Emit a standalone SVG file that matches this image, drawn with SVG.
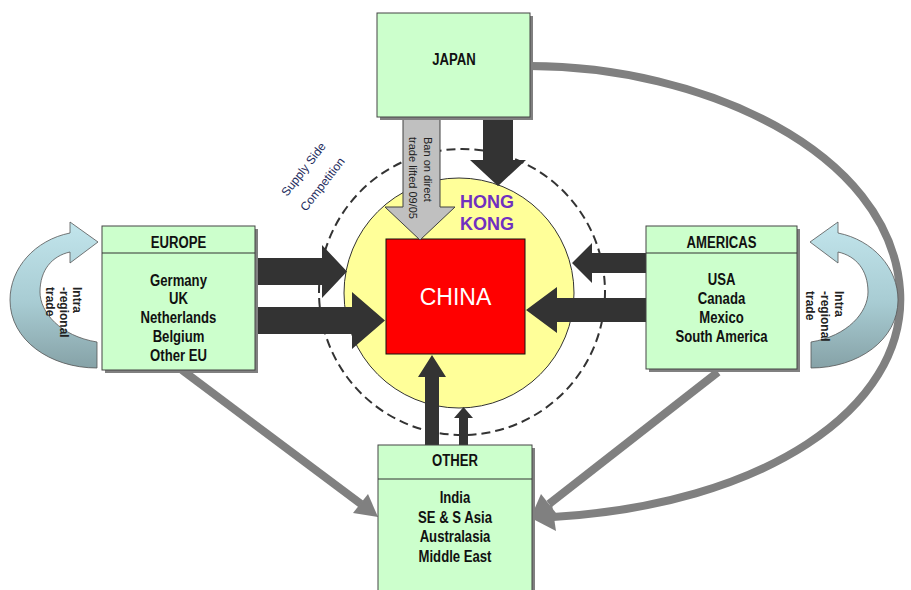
<svg xmlns="http://www.w3.org/2000/svg" width="911" height="590" viewBox="0 0 911 590">
<defs>
<style>
.box{fill:#ccffcc;stroke:#444;stroke-width:1}
.shadow{fill:#808080}
.hdr{stroke:#333;stroke-width:1}
.lbl{font-family:"Liberation Sans",Arial,sans-serif;font-weight:bold;font-size:16px;fill:#111;text-anchor:middle}
.dark{fill:#333333}
.gline{fill:none;stroke:#808080;stroke-width:8}
.ghead{fill:#808080}
.intra{fill:url(#ig);stroke:#555;stroke-width:0.8}
.itxt{font-family:"Liberation Sans",Arial,sans-serif;font-weight:bold;font-size:12px;fill:#222}
</style>
<linearGradient id="ig" x1="0" y1="0" x2="0" y2="1">
<stop offset="0" stop-color="#c2e5ec"/>
<stop offset="0.55" stop-color="#a8ccd3"/>
<stop offset="1" stop-color="#86a2a7"/>
</linearGradient>
</defs>

<g id="circles">
<circle cx="462" cy="292" r="143" fill="none" stroke="#333" stroke-width="2" stroke-dasharray="9 5"/>
<circle cx="459" cy="293" r="115" fill="#ffff99" stroke="#333" stroke-width="1"/>
</g>

<g id="supply-text" font-family="Liberation Sans, Arial, sans-serif" font-size="12" fill="#1c2a5c">
<text transform="translate(287,197) rotate(-52)">Supply Side</text>
<text transform="translate(306,212) rotate(-52)">Competition</text>
</g>

<g id="china">
<rect x="386" y="239" width="139" height="115" fill="#ff0000" stroke="#111" stroke-width="1"/>
<text x="455.5" y="305" font-family="Liberation Sans, Arial, sans-serif" font-size="23" fill="#ffffff" text-anchor="middle">CHINA</text>
</g>

<g id="hongkong" font-family="Liberation Sans, Arial, sans-serif" font-weight="bold" font-size="18" fill="#7030c0" text-anchor="middle">
<text x="487" y="208">HONG</text>
<text x="487" y="230">KONG</text>
</g>

<g id="connectors">
<path class="gline" d="M530 66 C 700 66, 890 150, 900 290 C 908 410, 760 505, 553 517"/>
<polygon class="ghead" points="531,518 552,504 556,531"/>
<line class="gline" x1="718" y1="372" x2="549" y2="504"/>
<polygon class="ghead" points="531,517 541,494 556,513"/>
<line class="gline" x1="182" y1="370" x2="361" y2="504"/>
<polygon class="ghead" points="378,517 353,513 368,494"/>

<polygon class="dark" points="257,258 322,258 322,245 347,271.5 322,298 322,285 257,285"/>
<polygon class="dark" points="257,307 352,307 352,292 385,320.5 352,349 352,334 257,334"/>
<polygon class="dark" points="646,253 592,253 592,243 572,263 592,283 592,273 646,273"/>
<polygon class="dark" points="646,298 557,298 557,287 526,310 557,333 557,322 646,322"/>
<polygon class="dark" points="483,116 513,116 513,160 526,160 498,186 470,160 483,160"/>
<polygon class="dark" points="425,446 425,377 418,377 432,355 446,377 439,377 439,446"/>
<polygon class="dark" points="459,446 459,418 454,418 463.5,407 473,418 468,418 468,446"/>

<polygon points="403,116 440,116 440,207 455,207 420,240 385,207 403,207" fill="#c0c0c0" stroke="#404040" stroke-width="1"/>
<g font-family="Liberation Sans, Arial, sans-serif" font-size="11" fill="#222">
<text transform="translate(424,137) rotate(90)">Ban on direct</text>
<text transform="translate(409,137) rotate(90)">trade lifted 09/05</text>
</g>

<path class="intra" d="M97 342 C 60 336, 40 312, 40 292 C 40 270, 52 256, 70 252 L 70 263 L 98 242 L 70 222 L 70 233 C 35 240, 10 268, 10 300 C 10 340, 50 368, 97 368 Z"/>
<path class="intra" transform="translate(908,0) scale(-1,1)" d="M97 342 C 60 336, 40 312, 40 292 C 40 270, 52 256, 70 252 L 70 263 L 98 242 L 70 222 L 70 233 C 35 240, 10 268, 10 300 C 10 340, 50 368, 97 368 Z"/>
<g class="itxt">
<text transform="translate(73,287) rotate(90)">Intra</text>
<text transform="translate(60,287) rotate(90)">-regional</text>
<text transform="translate(46,287) rotate(90)">trade</text>
<text transform="translate(835,291) rotate(90)">Intra</text>
<text transform="translate(821,291) rotate(90)">-regional</text>
<text transform="translate(806,291) rotate(90)">trade</text>
</g>
</g>

<g id="japan">
<rect class="shadow" x="380" y="16" width="153" height="104"/>
<rect class="box" x="377" y="13" width="153" height="104"/>
<g transform="translate(454,0) scale(0.82,1)"><text class="lbl" x="0" y="65" font-size="17">JAPAN</text></g>
</g>

<g id="europe">
<rect class="shadow" x="105" y="229" width="153" height="144"/>
<rect class="box" x="102" y="226" width="153" height="144"/>
<line class="hdr" x1="102" y1="253" x2="255" y2="253"/>
<g transform="translate(178.5,0) scale(0.82,1)">
<text class="lbl" x="0" y="248">EUROPE</text>
<text class="lbl" x="0" y="286">Germany</text>
<text class="lbl" x="0" y="304">UK</text>
<text class="lbl" x="0" y="323">Netherlands</text>
<text class="lbl" x="0" y="342">Belgium</text>
<text class="lbl" x="0" y="361">Other EU</text>
</g>
</g>

<g id="americas">
<rect class="shadow" x="649" y="229" width="151" height="143"/>
<rect class="box" x="646" y="226" width="151" height="143"/>
<line class="hdr" x1="646" y1="253" x2="797" y2="253"/>
<g transform="translate(721.5,0) scale(0.82,1)">
<text class="lbl" x="0" y="248">AMERICAS</text>
<text class="lbl" x="0" y="285">USA</text>
<text class="lbl" x="0" y="304">Canada</text>
<text class="lbl" x="0" y="323">Mexico</text>
<text class="lbl" x="0" y="342">South America</text>
</g>
</g>

<g id="other">
<rect class="shadow" x="381" y="448" width="154" height="160"/>
<rect class="box" x="378" y="445" width="154" height="160"/>
<line class="hdr" x1="378" y1="479" x2="532" y2="479"/>
<g transform="translate(455,0) scale(0.82,1)">
<text class="lbl" x="0" y="466">OTHER</text>
<text class="lbl" x="0" y="503">India</text>
<text class="lbl" x="0" y="523">SE &amp; S Asia</text>
<text class="lbl" x="0" y="542">Australasia</text>
<text class="lbl" x="0" y="562">Middle East</text>
</g>
</g>
</svg>
